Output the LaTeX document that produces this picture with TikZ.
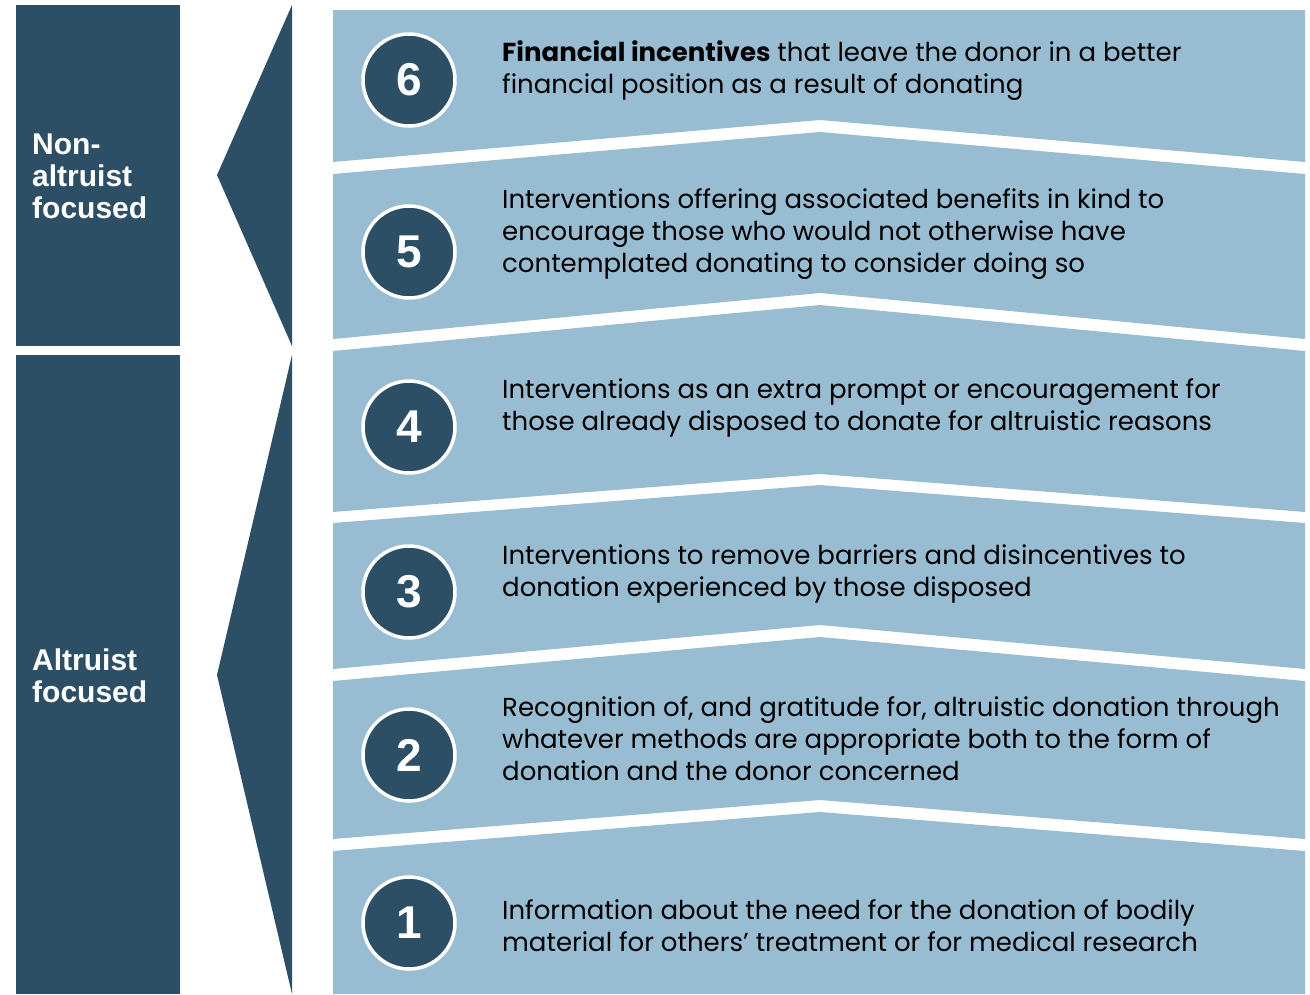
\documentclass[tikz,border=0pt]{standalone}
\usepackage{fontspec}
\setmainfont{Poppins}
\newfontfamily\numfont{Liberation Sans}
\usepackage{tikz}
\usepackage{xcolor}
\definecolor{darkcolor}{RGB}{44,79,102}
\definecolor{bandcolor}{RGB}{152,189,211}

\begin{document}
\begin{tikzpicture}[
    x=1pt, y=-1pt,
    band/.style={fill=bandcolor},
    side/.style={fill=darkcolor},
    num/.style={circle, draw=white, line width=3.5pt, fill=darkcolor, minimum size=92pt, inner sep=0pt, text=white, font=\numfont\bfseries\fontsize{46}{46}\selectfont},
    txt/.style={anchor=base west, align=left, inner sep=0pt, font=\fontsize{26}{32}\selectfont},
    grp/.style={anchor=base west, align=left, inner sep=0pt, text=white, font=\numfont\bfseries\fontsize{30}{32}\selectfont}
]
\useasboundingbox (0,0) rectangle (1310,994);

% left column
\fill[side] (16,5) rectangle (180,346);
\fill[side] (16,355) rectangle (180,994);
\fill[side] (292,5) -- (217,175) -- (292,346) -- cycle;
\fill[side] (292,355) -- (217,675) -- (292,994) -- cycle;
\node[grp] (nonalt) at (32,218) {Non-\\altruist\\focused};
\node[grp] (alt) at (32,702) {Altruist\\focused};

% chevron bands
\fill[band] (333,10) -- (1305,10) -- (1305,162) -- (820,120) -- (333,162) -- cycle;
\fill[band] (333,174) -- (820,132) -- (1305,174) -- (1305,339) -- (820,293) -- (333,339) -- cycle;
\fill[band] (333,351) -- (820,305) -- (1305,351) -- (1305,512) -- (820,474) -- (333,512) -- cycle;
\fill[band] (333,523) -- (820,485) -- (1305,523) -- (1305,669) -- (820,625) -- (333,669) -- cycle;
\fill[band] (333,681) -- (820,637) -- (1305,681) -- (1305,839) -- (820,800) -- (333,839) -- cycle;
\fill[band] (333,851) -- (820,812) -- (1305,851) -- (1305,994) -- (333,994) -- cycle;

% numbers
\node[num] (n6) at (409,80) {6};
\node[num] (n5) at (409,252) {5};
\node[num] (n4) at (409,427) {4};
\node[num] (n3) at (409,592) {3};
\node[num] (n2) at (409,755) {2};
\node[num] (n1) at (409,923) {1};

% texts (anchored at last line)
\node[txt] (t6) at (502,93) {\textbf{Financial incentives} that leave the donor in a better\\financial position as a result of donating};
\node[txt] (t5) at (502,272) {Interventions offering associated benefits in kind to\\encourage those who would not otherwise have\\contemplated donating to consider doing so};
\node[txt] (t4) at (502,430) {Interventions as an extra prompt or encouragement for\\those already disposed to donate for altruistic reasons};
\node[txt] (t3) at (502,596) {Interventions to remove barriers and disincentives to\\donation experienced by those disposed};
\node[txt] (t2) at (502,780) {Recognition of, and gratitude for, altruistic donation through\\whatever methods are appropriate both to the form of\\donation and the donor concerned};
\node[txt] (t1) at (502,951) {Information about the need for the donation of bodily\\material for others’ treatment or for medical research};
\end{tikzpicture}
\end{document}
